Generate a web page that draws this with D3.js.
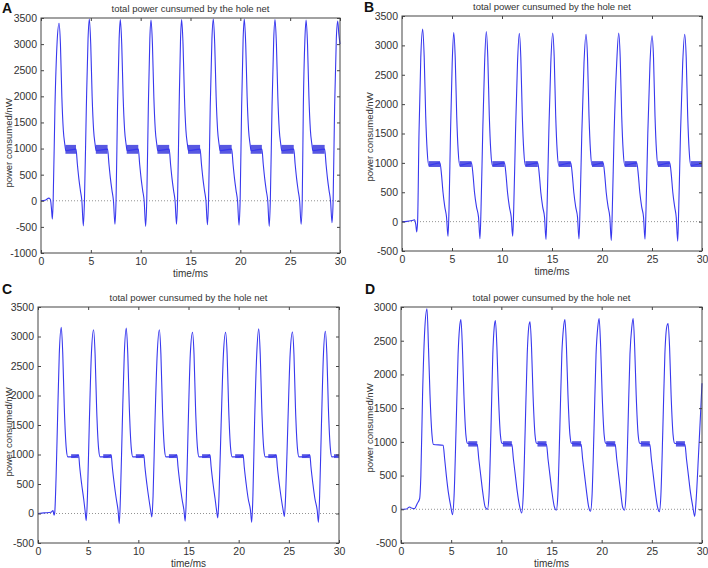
<!DOCTYPE html>
<html>
<head>
<meta charset="utf-8">
<script src="https://cdn.jsdelivr.net/npm/d3@7"></script>
<style>
body { margin: 0; background: #fff; }
svg text { font-family: Arial, "Liberation Sans", sans-serif; fill: #333; }
</style>
</head>
<body>
<div id="main_div"></div>
<script>
// [time ms, power nW]
var pointsA = [[0,0],[0.4,10],[0.8,50],[0.95,20],[1.05,-150],[1.14,-350],[1.22,0],[1.4,1800],[1.62,3050],
  [1.81,3400],[1.95,3000],[2.09,2000],[2.24,1350],[2.39,1080],[2.49,960],[3.51,990],[3.65,700],[3.8,420],[3.95,200],[4.1,0],[4.25,-480],[4.36,0],[4.55,1800],[4.72,3100],
  [4.85,3480],[4.99,3000],[5.13,2000],[5.28,1350],[5.43,1080],[5.53,960],[6.68,990],[6.82,700],[6.97,420],[7.12,200],[7.27,0],[7.42,-450],[7.53,0],[7.68,1800],[7.84,3100],
  [7.96,3470],[8.10,3000],[8.24,2000],[8.39,1350],[8.54,1080],[8.64,960],[9.76,990],[9.90,700],[10.05,420],[10.20,200],[10.35,0],[10.50,-490],[10.61,0],[10.77,1800],[10.92,3100],
  [11.04,3460],[11.18,3000],[11.32,2000],[11.47,1350],[11.62,1080],[11.72,960],[12.86,990],[13.00,700],[13.15,420],[13.30,200],[13.45,0],[13.60,-450],[13.70,0],[13.86,1800],[14.00,3100],
  [14.11,3470],[14.25,3000],[14.39,2000],[14.54,1350],[14.69,1080],[14.79,960],[15.96,990],[16.10,700],[16.25,420],[16.40,200],[16.55,0],[16.70,-460],[16.81,0],[16.98,1800],[17.15,3100],
  [17.29,3480],[17.43,3000],[17.57,2000],[17.72,1350],[17.87,1080],[17.97,960],[19.13,990],[19.27,700],[19.42,420],[19.57,200],[19.72,0],[19.87,-470],[19.98,0],[20.13,1800],[20.28,3100],
  [20.40,3480],[20.54,3000],[20.68,2000],[20.83,1350],[20.98,1080],[21.08,960],[22.16,990],[22.30,700],[22.45,420],[22.60,200],[22.75,0],[22.90,-490],[23.01,0],[23.18,1800],[23.35,3100],
  [23.48,3470],[23.62,3000],[23.76,2000],[23.91,1350],[24.06,1080],[24.16,960],[25.36,990],[25.50,700],[25.65,420],[25.80,200],[25.95,0],[26.10,-450],[26.21,0],[26.32,1800],[26.48,3100],
  [26.60,3460],[26.74,3000],[26.88,2000],[27.03,1350],[27.18,1080],[27.28,960],[28.46,990],[28.60,700],[28.75,420],[28.90,200],[29.05,0],[29.20,-420],[29.31,0],[29.46,1800],[29.63,3100],
  [29.77,3440],[29.88,3200],[30,3000]];
var bandsA = [[2.45,3.51],[5.50,6.68],[8.60,9.76],[11.68,12.86],[14.75,15.96],[17.93,19.13],[21.04,22.16],[24.12,25.36],[27.24,28.46]];

var pointsB = [[0,0],[0.5,5],[1.0,20],[1.25,30],[1.38,-50],[1.47,-175],[1.56,0],[1.7,1500],[1.88,2800],
  [2.07,3280],[2.22,2800],[2.37,1800],[2.52,1200],[2.67,960],[3.8,1000],[3.95,800],[4.1,500],[4.28,250],[4.45,80],[4.60,-250],[4.70,200],[4.85,1500],[5.02,2700],
  [5.17,3220],[5.32,2800],[5.47,1800],[5.62,1200],[5.77,960],[6.95,1000],[7.10,800],[7.25,500],[7.45,250],[7.65,80],[7.80,-290],[7.90,200],[8.07,1500],[8.26,2700],
  [8.43,3235],[8.58,2800],[8.73,1800],[8.88,1200],[9.03,960],[10.25,1000],[10.40,800],[10.55,500],[10.74,250],[10.92,80],[11.07,-250],[11.17,200],[11.35,1500],[11.55,2700],
  [11.73,3205],[11.88,2800],[12.03,1800],[12.18,1200],[12.33,960],[13.58,1000],[13.73,800],[13.88,500],[14.07,250],[14.25,80],[14.40,-305],[14.50,200],[14.68,1500],[14.88,2700],
  [15.07,3210],[15.22,2800],[15.37,1800],[15.52,1200],[15.67,960],[16.88,1000],[17.03,800],[17.18,500],[17.37,250],[17.55,80],[17.70,-295],[17.80,200],[17.98,1500],[18.20,2700],
  [18.40,3190],[18.55,2800],[18.70,1800],[18.85,1200],[19.00,960],[20.12,1000],[20.27,800],[20.42,500],[20.61,250],[20.78,80],[20.93,-320],[21.03,200],[21.21,1500],[21.47,2700],
  [21.67,3210],[21.82,2800],[21.97,1800],[22.12,1200],[22.27,960],[23.48,1000],[23.63,800],[23.78,500],[23.97,250],[24.15,80],[24.30,-300],[24.40,200],[24.58,1500],[24.80,2700],
  [25.00,3165],[25.15,2800],[25.30,1800],[25.45,1200],[25.60,960],[26.78,1000],[26.93,800],[27.08,500],[27.27,250],[27.42,80],[27.57,-335],[27.67,200],[27.85,1500],[28.07,2700],
  [28.27,3190],[28.42,2800],[28.57,1800],[28.72,1200],[28.87,960],[30,990]];
var bandsB = [[2.67,3.8],[5.77,6.95],[9.03,10.25],[12.33,13.58],[15.67,16.88],[19.0,20.12],[22.27,23.48],[25.6,26.78],[28.87,30]];

var pointsC = [[0,0],[0.6,10],[1.3,20],[1.5,50],[1.6,-30],[1.67,20],[1.8,600],[1.95,1600],[2.12,2700],
  [2.32,3155],[2.47,2700],[2.62,1800],[2.82,1100],[2.97,960],[3.6,960],[4.05,990],[4.15,800],[4.35,500],[4.55,250],[4.69,50],[4.81,-120],[4.93,300],[5.11,1500],[5.32,2700],
  [5.54,3115],[5.69,2700],[5.84,1800],[6.04,1100],[6.19,960],[6.85,960],[7.3,990],[7.4,800],[7.6,500],[7.8,250],[7.98,50],[8.10,-170],[8.22,300],[8.40,1500],[8.60,2700],
  [8.80,3145],[8.95,2700],[9.10,1800],[9.30,1100],[9.45,960],[10.1,960],[10.55,990],[10.65,800],[10.85,500],[11.05,250],[11.23,50],[11.35,-60],[11.47,300],[11.65,1500],[11.88,2700],
  [12.10,3115],[12.25,2700],[12.40,1800],[12.60,1100],[12.75,960],[13.4,960],[13.85,990],[13.95,800],[14.15,500],[14.35,250],[14.55,50],[14.67,-130],[14.79,300],[14.97,1500],[15.18,2700],
  [15.40,3070],[15.55,2700],[15.70,1800],[15.90,1100],[16.05,960],[16.7,960],[17.15,990],[17.25,800],[17.45,500],[17.65,250],[17.80,50],[17.92,-75],[18.04,300],[18.25,1500],[18.48,2700],
  [18.70,3070],[18.85,2700],[19.00,1800],[19.20,1100],[19.35,960],[20.0,960],[20.45,990],[20.55,800],[20.75,500],[20.95,250],[21.18,50],[21.30,-150],[21.42,300],[21.58,1500],[21.80,2700],
  [22.00,3130],[22.15,2700],[22.30,1800],[22.50,1100],[22.65,960],[23.3,960],[23.75,990],[23.85,800],[24.05,500],[24.25,250],[24.44,50],[24.56,-50],[24.68,300],[24.90,1500],[25.13,2700],
  [25.36,3075],[25.51,2700],[25.66,1800],[25.86,1100],[26.01,960],[26.65,960],[27.1,990],[27.2,800],[27.4,500],[27.6,250],[27.83,50],[27.95,-150],[28.07,300],[28.25,1500],[28.45,2700],
  [28.64,3090],[28.79,2700],[28.94,1800],[29.14,1100],[29.29,960],[29.8,970],[30,990]];
var bandsC = [[3.3,4.05],[6.5,7.3],[9.75,10.55],[13.05,13.85],[16.35,17.15],[19.65,20.45],[22.95,23.75],[26.3,27.1],[29.5,30]];

var pointsD = [[0,0],[0.55,5],[0.86,35],[1.1,15],[1.36,10],[1.6,80],[1.86,160],[1.98,500],[2.15,1700],[2.38,2700],
  [2.59,2975],[2.74,2400],[2.89,1700],[3.09,1100],[3.24,960],[4.2,950],[4.35,750],[4.52,500],[4.72,250],[4.95,50],[5.14,-80],[5.29,200],[5.49,1200],[5.69,2300],[5.84,2700],
  [5.97,2815],[6.12,2400],[6.27,1700],[6.47,1100],[6.62,980],[7.6,960],[7.75,750],[7.95,500],[8.15,250],[8.40,30],[8.62,0],[8.77,200],[8.97,1200],[9.15,2300],[9.29,2700],
  [9.41,2800],[9.56,2400],[9.71,1700],[9.91,1100],[10.06,980],[11.05,960],[11.2,750],[11.4,500],[11.6,250],[11.83,40],[12.03,-55],[12.18,200],[12.38,1200],[12.58,2300],[12.73,2700],
  [12.86,2780],[13.01,2400],[13.16,1700],[13.36,1100],[13.51,980],[14.5,960],[14.65,750],[14.85,500],[15.05,250],[15.28,40],[15.48,-15],[15.63,200],[15.83,1200],[16.03,2300],[16.2,2700],
  [16.34,2815],[16.49,2400],[16.64,1700],[16.84,1100],[16.99,980],[17.95,960],[18.1,750],[18.3,500],[18.5,250],[18.7,40],[18.89,-30],[19.04,200],[19.24,1200],[19.44,2300],[19.61,2700],
  [19.75,2830],[19.90,2400],[20.05,1700],[20.25,1100],[20.40,980],[21.35,960],[21.5,750],[21.7,500],[21.9,250],[22.08,40],[22.27,-15],[22.42,200],[22.62,1200],[22.82,2300],[23.0,2700],
  [23.14,2830],[23.29,2400],[23.44,1700],[23.64,1100],[23.79,980],[24.8,960],[24.95,750],[25.15,500],[25.35,250],[25.56,40],[25.75,-35],[25.9,200],[26.1,1200],[26.3,2300],[26.48,2700],
  [26.62,2755],[26.77,2400],[26.92,1700],[27.12,1100],[27.27,980],[28.3,960],[28.45,750],[28.65,500],[28.85,250],[29.08,40],[29.27,-105],[29.42,150],[29.65,800],[29.85,1400],[30,1870]];
var bandsD = [[6.7,7.6],[10.15,11.05],[13.6,14.5],[17.05,17.95],[20.45,21.35],[23.9,24.8],[27.4,28.3]];

var xTicks = [0, 5, 10, 15, 20, 25, 30];
var yDomains = [[-1000, 3500], [-500, 3500], [-500, 3500], [-500, 3000]];
var bandLevels = [[900, 1070], [930, 1030], [940, 1005], [930, 1010]];
var letters = ["A", "B", "C", "D"];
var title = "total power cunsumed by the hole net";
var xLabel = "time/ms";
var yLabel = "power consumed/nW";

// panel boxes in the page: left, right, top, bottom
var boxes = [[41, 340, 18, 253], [402, 702, 16, 251], [38, 339, 307, 543], [401, 702, 307, 543]];
var letterPos = [[2, 13], [364, 12], [2, 294], [365, 294]];
var yLabelPos = [[12, 143], [373, 137], [12, 432], [373, 428]];

var panels = [
  {points: pointsA, bands: bandsA},
  {points: pointsB, bands: bandsB},
  {points: pointsC, bands: bandsC},
  {points: pointsD, bands: bandsD}
];

var svg = d3.select("#main_div").append("svg").attr("width", 708).attr("height", 568);

panels.forEach(function(p, i) {
  var b = boxes[i];
  var x_scale = d3.scaleLinear().domain([0, 30]).range([b[0], b[1]]);
  var y_scale = d3.scaleLinear().domain(yDomains[i]).range([b[3], b[2]]);
  var yTicks = d3.range(yDomains[i][0], yDomains[i][1] + 1, 500);
  var g = svg.append("g");

  // dotted zero line
  g.append("line")
    .attr("x1", x_scale(0)).attr("x2", x_scale(30))
    .attr("y1", y_scale(0)).attr("y2", y_scale(0))
    .attr("stroke", "#777").attr("stroke-width", 0.8).attr("stroke-dasharray", "1,2");

  // noisy plateau bands
  g.selectAll("rect.band").data(p.bands).enter().append("rect")
    .attr("class", "band")
    .attr("x", function(d) { return x_scale(d[0]); })
    .attr("width", function(d) { return x_scale(d[1]) - x_scale(d[0]); })
    .attr("y", y_scale(bandLevels[i][1]))
    .attr("height", y_scale(bandLevels[i][0]) - y_scale(bandLevels[i][1]))
    .attr("fill", "#2020d8").attr("opacity", 0.75);

  var line = d3.line()
    .x(function(d) { return x_scale(d[0]); })
    .y(function(d) { return y_scale(d[1]); })
    .curve(d3.curveMonotoneX);
  g.append("path").datum(p.points)
    .attr("d", line)
    .attr("fill", "none").attr("stroke", "#3838ee").attr("stroke-width", 1.1);

  // axes, ticks pointing inward on all four sides
  var fmt = function(d) { return String(d); };
  var ax = g.append("g").attr("transform", "translate(0," + b[3] + ")")
    .call(d3.axisBottom(x_scale).tickValues(xTicks).tickSizeInner(-3).tickSizeOuter(0).tickPadding(5).tickFormat(fmt));
  var ax2 = g.append("g").attr("transform", "translate(0," + b[2] + ")")
    .call(d3.axisTop(x_scale).tickValues(xTicks).tickSizeInner(-3).tickSizeOuter(0).tickFormat(""));
  var ay = g.append("g").attr("transform", "translate(" + b[0] + ",0)")
    .call(d3.axisLeft(y_scale).tickValues(yTicks).tickSizeInner(-3).tickSizeOuter(0).tickPadding(4).tickFormat(fmt));
  var ay2 = g.append("g").attr("transform", "translate(" + b[1] + ",0)")
    .call(d3.axisRight(y_scale).tickValues(yTicks).tickSizeInner(-3).tickSizeOuter(0).tickFormat(""));
  [ax, ax2, ay, ay2].forEach(function(a) {
    a.select(".domain").remove();
    a.selectAll("line").attr("stroke", "#444");
    a.selectAll("text").attr("font-size", 10.5).attr("fill", "#333")
      .attr("font-family", "Arial, 'Liberation Sans', sans-serif");
  });

  g.append("rect")
    .attr("x", b[0]).attr("y", b[2])
    .attr("width", b[1] - b[0]).attr("height", b[3] - b[2])
    .attr("fill", "none").attr("stroke", "#444").attr("stroke-width", 1);

  g.append("text")
    .attr("x", (b[0] + b[1]) / 2).attr("y", b[2] - 6)
    .attr("text-anchor", "middle").attr("font-size", 9.5)
    .text(title);
  g.append("text")
    .attr("x", (b[0] + b[1]) / 2).attr("y", b[3] + 24)
    .attr("text-anchor", "middle").attr("font-size", 10)
    .text(xLabel);
  g.append("text")
    .attr("transform", "translate(" + yLabelPos[i][0] + "," + yLabelPos[i][1] + ") rotate(-90)")
    .attr("text-anchor", "middle").attr("font-size", 9.5)
    .text(yLabel);
  svg.append("text")
    .attr("x", letterPos[i][0]).attr("y", letterPos[i][1])
    .attr("font-size", 14).attr("font-weight", "bold").style("fill", "#111")
    .text(letters[i]);
});
</script>
</body>
</html>
